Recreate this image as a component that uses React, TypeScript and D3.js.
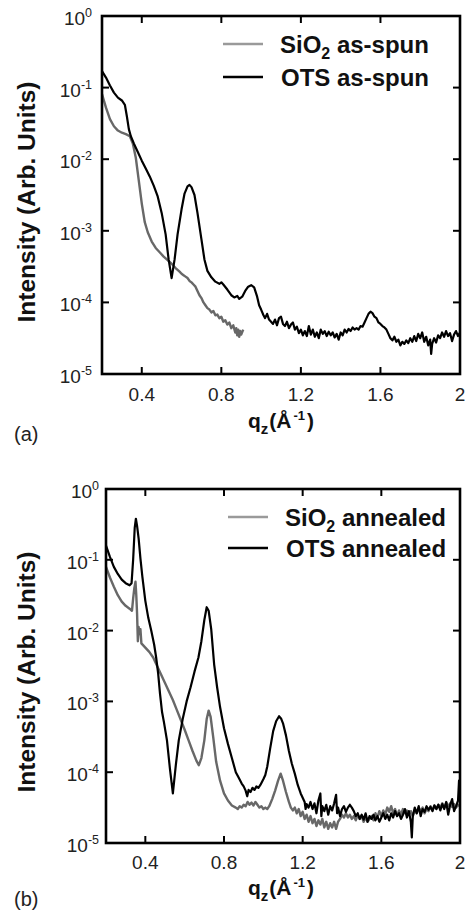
import React from 'react';
import * as d3 from 'd3';

// x ticks (q_z, Å^-1) and y tick exponents (log10 intensity)
const xTickValues = [0.4, 0.8, 1.2, 1.6, 2];
const xTickLabels = ['0.4', '0.8', '1.2', '1.6', '2'];
const yTickExps = [0, -1, -2, -3, -4, -5];

// series: [q_z, log10(intensity)]
const sio2AsSpun: [number, number][] = [
  [0.2, -1.09], [0.22, -1.28], [0.24, -1.44], [0.26, -1.54], [0.28, -1.6], [0.3, -1.63], [0.32, -1.65],
  [0.34, -1.68], [0.355, -1.78], [0.37, -1.98], [0.385, -2.3], [0.4, -2.62], [0.415, -2.88], [0.43, -3.02],
  [0.45, -3.15], [0.47, -3.24], [0.49, -3.3], [0.51, -3.36], [0.53, -3.41], [0.55, -3.46], [0.57, -3.52],
  [0.59, -3.57], [0.6, -3.6], [0.61, -3.62], [0.62, -3.64], [0.63, -3.66], [0.64, -3.7], [0.65, -3.72],
  [0.66, -3.75], [0.67, -3.78], [0.68, -3.84], [0.69, -3.9], [0.7, -3.94], [0.71, -4.0], [0.72, -4.04],
  [0.73, -4.08], [0.74, -4.1], [0.75, -4.14], [0.76, -4.12], [0.77, -4.18], [0.78, -4.17], [0.79, -4.22],
  [0.8, -4.2], [0.81, -4.27], [0.82, -4.25], [0.83, -4.31], [0.84, -4.28], [0.85, -4.36], [0.86, -4.32],
  [0.87, -4.42], [0.875, -4.36], [0.88, -4.46], [0.885, -4.38], [0.89, -4.48], [0.895, -4.4], [0.9, -4.45],
  [0.91, -4.38],
];

const otsAsSpun: [number, number][] = [
  [0.2, -0.77], [0.22, -0.86], [0.24, -0.97], [0.26, -1.07], [0.28, -1.14], [0.3, -1.18], [0.315, -1.24],
  [0.325, -1.4], [0.335, -1.58], [0.345, -1.68], [0.36, -1.78], [0.38, -1.9], [0.4, -2.02], [0.42, -2.13],
  [0.44, -2.24], [0.46, -2.37], [0.48, -2.52], [0.5, -2.75], [0.52, -3.05], [0.535, -3.4], [0.55, -3.66],
  [0.565, -3.4], [0.58, -3.05], [0.6, -2.7], [0.615, -2.48], [0.63, -2.38], [0.64, -2.36], [0.65, -2.39],
  [0.665, -2.5], [0.68, -2.75], [0.7, -3.12], [0.715, -3.4], [0.73, -3.56], [0.75, -3.65], [0.77, -3.71],
  [0.79, -3.74], [0.8, -3.72], [0.81, -3.75], [0.83, -3.82], [0.85, -3.9], [0.865, -3.93], [0.88, -3.91],
  [0.89, -3.95], [0.905, -3.92], [0.92, -3.84], [0.935, -3.78], [0.95, -3.76], [0.965, -3.79], [0.98, -3.92],
  [0.99, -4.04], [1.0, -4.1], [1.012, -4.18], [1.02, -4.22], [1.03, -4.16], [1.04, -4.24], [1.05, -4.27],
  [1.06, -4.3], [1.07, -4.24], [1.08, -4.32], [1.09, -4.22], [1.1, -4.2], [1.11, -4.3], [1.12, -4.33],
  [1.13, -4.27], [1.14, -4.36], [1.15, -4.31], [1.16, -4.28], [1.17, -4.38], [1.18, -4.34], [1.19, -4.43],
  [1.2, -4.38], [1.21, -4.46], [1.22, -4.4], [1.23, -4.47], [1.24, -4.33], [1.25, -4.45], [1.26, -4.38],
  [1.27, -4.48], [1.28, -4.42], [1.29, -4.5], [1.3, -4.38], [1.31, -4.44], [1.32, -4.4], [1.33, -4.47],
  [1.34, -4.41], [1.35, -4.46], [1.36, -4.42], [1.37, -4.49], [1.38, -4.44], [1.39, -4.52], [1.4, -4.42],
  [1.41, -4.46], [1.42, -4.38], [1.43, -4.42], [1.44, -4.37], [1.45, -4.4], [1.46, -4.35], [1.47, -4.38],
  [1.48, -4.36], [1.49, -4.38], [1.5, -4.33], [1.51, -4.34], [1.52, -4.28], [1.53, -4.22], [1.54, -4.16],
  [1.55, -4.13], [1.56, -4.15], [1.57, -4.2], [1.58, -4.22], [1.59, -4.28], [1.6, -4.3], [1.61, -4.33],
  [1.62, -4.35], [1.63, -4.38], [1.64, -4.44], [1.65, -4.5], [1.66, -4.53], [1.67, -4.48], [1.68, -4.55],
  [1.69, -4.52], [1.7, -4.6], [1.71, -4.55], [1.72, -4.58], [1.73, -4.53], [1.74, -4.57], [1.75, -4.5],
  [1.76, -4.55], [1.77, -4.47], [1.78, -4.54], [1.79, -4.44], [1.8, -4.5], [1.81, -4.42], [1.82, -4.55],
  [1.83, -4.48], [1.84, -4.6], [1.85, -4.52], [1.855, -4.72], [1.86, -4.58], [1.87, -4.5], [1.88, -4.56],
  [1.89, -4.46], [1.9, -4.5], [1.91, -4.42], [1.92, -4.48], [1.93, -4.4], [1.94, -4.47], [1.95, -4.43],
  [1.96, -4.54], [1.97, -4.45], [1.98, -4.4], [1.99, -4.47], [2.0, -4.42],
];

const sio2Annealed: [number, number][] = [
  [0.2, -1.1], [0.22, -1.25], [0.24, -1.38], [0.26, -1.5], [0.28, -1.59], [0.3, -1.65], [0.32, -1.69],
  [0.332, -1.72], [0.338, -1.55], [0.344, -1.4], [0.35, -1.31], [0.354, -1.5], [0.358, -1.76], [0.362, -2.15],
  [0.366, -1.95], [0.37, -2.05], [0.375, -1.98], [0.38, -2.18], [0.4, -2.24], [0.42, -2.3], [0.44, -2.38],
  [0.46, -2.5], [0.48, -2.62], [0.5, -2.74], [0.52, -2.86], [0.54, -2.98], [0.56, -3.12], [0.58, -3.26],
  [0.6, -3.4], [0.62, -3.55], [0.64, -3.7], [0.66, -3.84], [0.672, -3.9], [0.685, -3.8], [0.7, -3.55],
  [0.712, -3.25], [0.722, -3.13], [0.732, -3.22], [0.745, -3.5], [0.76, -3.85], [0.78, -4.12], [0.8, -4.3],
  [0.82, -4.4], [0.84, -4.47], [0.86, -4.5], [0.87, -4.52], [0.88, -4.48], [0.89, -4.5], [0.9, -4.46],
  [0.91, -4.48], [0.92, -4.42], [0.93, -4.46], [0.94, -4.43], [0.95, -4.47], [0.96, -4.42], [0.97, -4.46],
  [0.98, -4.5], [0.99, -4.48], [1.0, -4.52], [1.01, -4.5], [1.02, -4.52], [1.03, -4.48], [1.045, -4.38],
  [1.06, -4.26], [1.075, -4.12], [1.088, -4.02], [1.1, -4.12], [1.115, -4.28], [1.13, -4.42], [1.14, -4.5],
  [1.15, -4.54], [1.16, -4.5], [1.17, -4.58], [1.18, -4.52], [1.19, -4.62], [1.2, -4.56], [1.21, -4.66],
  [1.22, -4.6], [1.23, -4.7], [1.24, -4.62], [1.25, -4.72], [1.26, -4.66], [1.27, -4.76], [1.28, -4.68],
  [1.29, -4.74], [1.3, -4.66], [1.31, -4.78], [1.32, -4.7], [1.33, -4.8], [1.34, -4.72], [1.35, -4.78],
  [1.36, -4.7], [1.37, -4.8], [1.38, -4.7], [1.39, -4.66], [1.4, -4.6], [1.41, -4.64], [1.42, -4.58],
  [1.43, -4.64], [1.44, -4.6], [1.45, -4.66], [1.46, -4.62], [1.47, -4.68], [1.48, -4.6], [1.49, -4.66],
  [1.5, -4.62], [1.51, -4.7], [1.52, -4.64], [1.53, -4.7], [1.54, -4.66], [1.55, -4.62], [1.56, -4.68],
  [1.57, -4.58], [1.58, -4.64], [1.59, -4.55], [1.6, -4.62], [1.61, -4.54], [1.62, -4.6], [1.63, -4.5],
  [1.64, -4.56], [1.65, -4.48], [1.66, -4.58], [1.67, -4.52], [1.68, -4.62], [1.69, -4.54], [1.7, -4.6],
  [1.71, -4.52], [1.72, -4.58], [1.73, -4.54], [1.74, -4.6], [1.75, -4.55], [1.76, -4.62], [1.77, -4.54],
  [1.78, -4.58], [1.79, -4.5], [1.8, -4.56], [1.81, -4.5], [1.82, -4.58], [1.83, -4.52], [1.84, -4.55],
  [1.85, -4.48], [1.86, -4.54], [1.87, -4.47], [1.88, -4.52], [1.89, -4.46], [1.9, -4.5], [1.91, -4.44],
  [1.92, -4.5], [1.93, -4.43], [1.94, -4.48], [1.95, -4.44], [1.96, -4.49], [1.97, -4.45], [1.98, -4.5],
  [1.99, -4.46], [2.0, -4.48],
];

const otsAnnealed: [number, number][] = [
  [0.2, -0.8], [0.22, -0.96], [0.24, -1.1], [0.26, -1.2], [0.28, -1.28], [0.3, -1.33], [0.32, -1.36],
  [0.33, -1.33], [0.338, -1.0], [0.346, -0.55], [0.352, -0.42], [0.358, -0.52], [0.366, -0.7], [0.375, -0.98],
  [0.385, -1.24], [0.4, -1.58], [0.415, -1.82], [0.43, -2.0], [0.445, -2.2], [0.455, -2.38], [0.465, -2.6],
  [0.475, -2.9], [0.485, -3.15], [0.495, -3.3], [0.51, -3.55], [0.525, -3.95], [0.54, -4.3], [0.555, -3.9],
  [0.57, -3.55], [0.59, -3.25], [0.61, -3.0], [0.63, -2.8], [0.65, -2.58], [0.67, -2.38], [0.685, -2.15],
  [0.7, -1.85], [0.712, -1.67], [0.722, -1.72], [0.735, -1.98], [0.75, -2.48], [0.765, -2.8], [0.78, -3.08],
  [0.8, -3.38], [0.82, -3.6], [0.84, -3.8], [0.86, -4.0], [0.875, -4.08], [0.89, -4.16], [0.9, -4.2],
  [0.91, -4.26], [0.918, -4.34], [0.925, -4.25], [0.935, -4.28], [0.945, -4.22], [0.955, -4.25], [0.965, -4.2],
  [0.975, -4.22], [0.985, -4.18], [1.0, -4.1], [1.01, -4.04], [1.02, -3.92], [1.035, -3.66], [1.05, -3.42],
  [1.065, -3.28], [1.08, -3.21], [1.09, -3.24], [1.1, -3.31], [1.115, -3.48], [1.13, -3.7], [1.145, -3.88],
  [1.16, -4.02], [1.175, -4.18], [1.19, -4.3], [1.2, -4.36], [1.21, -4.42], [1.215, -4.52], [1.22, -4.45],
  [1.23, -4.5], [1.24, -4.42], [1.25, -4.52], [1.26, -4.44], [1.27, -4.58], [1.28, -4.4], [1.29, -4.3],
  [1.295, -4.62], [1.3, -4.48], [1.31, -4.55], [1.32, -4.46], [1.33, -4.6], [1.34, -4.48], [1.35, -4.54],
  [1.36, -4.44], [1.37, -4.32], [1.375, -4.58], [1.38, -4.5], [1.39, -4.62], [1.4, -4.52], [1.41, -4.48],
  [1.42, -4.56], [1.43, -4.5], [1.44, -4.46], [1.45, -4.5], [1.46, -4.55], [1.47, -4.62], [1.48, -4.58],
  [1.49, -4.66], [1.5, -4.6], [1.51, -4.67], [1.52, -4.58], [1.53, -4.7], [1.54, -4.62], [1.55, -4.66],
  [1.56, -4.6], [1.57, -4.68], [1.58, -4.62], [1.59, -4.7], [1.6, -4.64], [1.61, -4.58], [1.62, -4.66],
  [1.63, -4.6], [1.64, -4.68], [1.65, -4.58], [1.66, -4.64], [1.67, -4.55], [1.68, -4.62], [1.69, -4.58],
  [1.7, -4.66], [1.71, -4.6], [1.72, -4.52], [1.73, -4.64], [1.74, -4.55], [1.75, -4.7], [1.755, -4.92],
  [1.76, -4.62], [1.77, -4.5], [1.78, -4.58], [1.79, -4.48], [1.8, -4.62], [1.81, -4.52], [1.82, -4.56],
  [1.83, -4.48], [1.84, -4.53], [1.85, -4.49], [1.86, -4.55], [1.87, -4.47], [1.88, -4.52], [1.89, -4.46],
  [1.9, -4.54], [1.91, -4.45], [1.92, -4.52], [1.93, -4.42], [1.94, -4.6], [1.95, -4.46], [1.96, -4.38],
  [1.97, -4.55], [1.98, -4.48], [1.99, -4.4], [1.995, -4.12], [2.0, -4.3],
];

const FONT = 'Liberation Sans, Arial, Helvetica, sans-serif';
const GREY = '#686868';
const GREY_LEG = '#9a9a9a';

type Box = { left: number; top: number; right: number; bottom: number };

function Panel(props: {
  id: string;
  box: Box;
  tickLabelRight: number;
  xTickBaseline: number;
  grey: [number, number][];
  black: [number, number][];
  greyName: string;
  blackName: string;
  legendLineX: [number, number];
  legendY: [number, number];
  legendTextX: number;
  yTitleY: number;
  xTitleBaseline: number;
  tag: string;
  tagBaseline: number;
}) {
  const { box } = props;
  const x = d3.scaleLinear().domain([0.2, 2]).range([box.left, box.right]);
  const y = d3.scaleLog().domain([1e-5, 1]).range([box.bottom, box.top]);
  const line = d3
    .line<[number, number]>()
    .x((d) => x(d[0]))
    .y((d) => y(Math.pow(10, d[1])));
  const tl = 7;
  return (
    <g fontFamily={FONT}>
      <defs>
        <clipPath id={`clip-${props.id}`}>
          <rect x={box.left} y={box.top} width={box.right - box.left} height={box.bottom - box.top} />
        </clipPath>
      </defs>
      <g clipPath={`url(#clip-${props.id})`}>
        <path d={line(props.grey) || ''} fill="none" stroke={GREY} strokeWidth={2.4} strokeLinejoin="round" />
        <path d={line(props.black) || ''} fill="none" stroke="#000" strokeWidth={2.2} strokeLinejoin="round" />
      </g>
      <rect
        x={box.left}
        y={box.top}
        width={box.right - box.left}
        height={box.bottom - box.top}
        fill="none"
        stroke="#000"
        strokeWidth={2.6}
      />
      {xTickValues.map((v, i) => (
        <g key={`xt${i}`}>
          {v < 2 && (
            <>
              <line x1={x(v)} x2={x(v)} y1={box.bottom} y2={box.bottom - tl} stroke="#000" strokeWidth={2} />
              <line x1={x(v)} x2={x(v)} y1={box.top} y2={box.top + tl} stroke="#000" strokeWidth={2} />
            </>
          )}
          <text x={x(v)} y={props.xTickBaseline} textAnchor="middle" fontSize={19} fill="#222">
            {xTickLabels[i]}
          </text>
        </g>
      ))}
      {yTickExps.map((e) => {
        const yy = y(Math.pow(10, e));
        return (
          <g key={`yt${e}`}>
            {e < 0 && e > -5 && (
              <>
                <line x1={box.left} x2={box.left + tl} y1={yy} y2={yy} stroke="#000" strokeWidth={2} />
                <line x1={box.right} x2={box.right - tl} y1={yy} y2={yy} stroke="#000" strokeWidth={2} />
              </>
            )}
            <text x={props.tickLabelRight} y={yy + 9} textAnchor="end" fontSize={19} fill="#222">
              10
              <tspan fontSize={12.5} dy={-8}>
                {e === 0 ? '0' : `-${-e}`}
              </tspan>
            </text>
          </g>
        );
      })}
      <text
        transform={`translate(35,${props.yTitleY}) rotate(-90)`}
        textAnchor="middle"
        fontSize={24.5}
        fontWeight="bold"
        fill="#111"
      >
        Intensity (Arb. Units)
      </text>
      <text x={281} y={props.xTitleBaseline} textAnchor="middle" fontSize={21} fontWeight="bold" fill="#111">
        q
        <tspan fontSize={15} dy={6}>z</tspan>
        <tspan dx={1} dy={-6}>(Å</tspan>
        <tspan dx={2} fontSize={13} dy={-8}>-1</tspan>
        <tspan dx={2} dy={8}>)</tspan>
      </text>
      <text x={14} y={props.tagBaseline} fontSize={20} fill="#222">
        {props.tag}
      </text>
      <line
        x1={props.legendLineX[0]}
        x2={props.legendLineX[1]}
        y1={props.legendY[0]}
        y2={props.legendY[0]}
        stroke={GREY_LEG}
        strokeWidth={2.5}
      />
      <line
        x1={props.legendLineX[0]}
        x2={props.legendLineX[1]}
        y1={props.legendY[1]}
        y2={props.legendY[1]}
        stroke="#000"
        strokeWidth={2.5}
      />
      <text x={props.legendTextX} y={props.legendY[0] + 8.5} fontSize={24} fontWeight="bold" fill="#111">
        SiO
        <tspan fontSize={16} dy={6}>2</tspan>
        <tspan dy={-6}>{' ' + props.greyName}</tspan>
      </text>
      <text x={props.legendTextX + 1} y={props.legendY[1] + 8.5} fontSize={24} fontWeight="bold" fill="#111">
        {props.blackName}
      </text>
    </g>
  );
}

export default function App() {
  return (
    <svg
      width={467}
      height={913}
      viewBox="0 0 467 913"
      style={{ position: 'absolute', left: 0, top: 0, background: '#fff' }}
    >
      <rect x={0} y={0} width={467} height={913} fill="#fff" />
      <Panel
        id="a"
        box={{ left: 102, top: 16, right: 460, bottom: 374 }}
        tickLabelRight={92}
        xTickBaseline={401}
        grey={sio2AsSpun}
        black={otsAsSpun}
        greyName="as-spun"
        blackName="OTS as-spun"
        legendLineX={[223, 263]}
        legendY={[44, 77]}
        legendTextX={280}
        yTitleY={202}
        xTitleBaseline={428}
        tag="(a)"
        tagBaseline={441}
      />
      <Panel
        id="b"
        box={{ left: 106, top: 489, right: 460, bottom: 843 }}
        tickLabelRight={99}
        xTickBaseline={869}
        grey={sio2Annealed}
        black={otsAnnealed}
        greyName="annealed"
        blackName="OTS annealed"
        legendLineX={[228, 268]}
        legendY={[517, 548]}
        legendTextX={285}
        yTitleY={672}
        xTitleBaseline={895}
        tag="(b)"
        tagBaseline={906}
      />
    </svg>
  );
}
